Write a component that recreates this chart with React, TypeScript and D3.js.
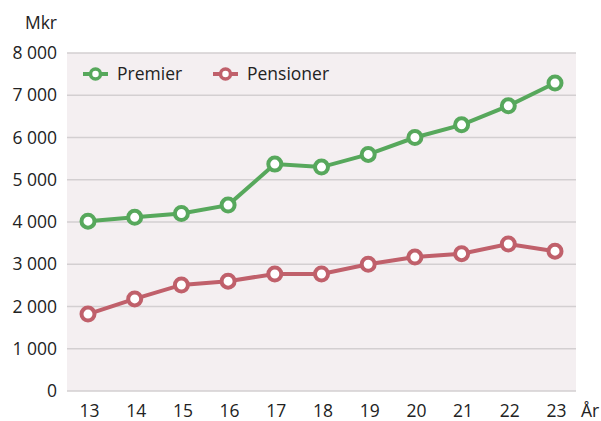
import React from "react";
import * as d3 from "d3";

const years = ["13", "14", "15", "16", "17", "18", "19", "20", "21", "22", "23"];
const premier = [4020, 4110, 4200, 4400, 5370, 5300, 5600, 6000, 6300, 6750, 7290];
const pensioner = [1820, 2180, 2510, 2600, 2770, 2770, 3000, 3170, 3250, 3480, 3310];
const yTicks = [0, 1000, 2000, 3000, 4000, 5000, 6000, 7000, 8000];

const W = 601, H = 421;
const left = 67, right = 576, top = 53, bottom = 391;
const green = "#57a85c", red = "#c0606b";
const font = "'Open Sans', sans-serif";

const fmt = (v: number) => d3.format(",")(v).replace(",", " ");

export default function App() {
  const x = d3.scalePoint().domain(years).range([88, 555]);
  const y = d3.scaleLinear().domain([0, 8000]).range([bottom, top]);
  const cx = (d: string) => x(d) as number;

  const line = d3.line<number>().x((_, i) => cx(years[i])).y(d => y(d));

  const series = [
    { name: "Premier", values: premier, color: green },
    { name: "Pensioner", values: pensioner, color: red },
  ];

  return (
    <svg width={W} height={H} style={{ position: "absolute", left: 0, top: 0 }} fontFamily={font}>
      <rect x={left} y={top} width={right - left} height={bottom - top} fill="#f4eff1" />
      {yTicks.map(t => (
        <g key={t}>
          <line x1={left} x2={right} y1={y(t)} y2={y(t)} stroke="#d3cfd1" strokeWidth={1.5} />
          <text x={57} y={y(t)} dy="0.35em" textAnchor="end" fontSize={17.5} fill="#222">{fmt(t)}</text>
        </g>
      ))}
      <text x={57} y={23} dy="0.35em" textAnchor="end" fontSize={17.5} fill="#222">Mkr</text>
      {years.map(d => (
        <text key={d} x={cx(d) + 1.5} y={411} dy="0.35em" textAnchor="middle" fontSize={17.5} fill="#222">{d}</text>
      ))}
      <text x={581} y={411} dy="0.35em" textAnchor="start" fontSize={17.5} fill="#222">År</text>

      {series.map(s => (
        <g key={s.name}>
          <path d={line(s.values) || ""} fill="none" stroke={s.color} strokeWidth={4} />
          {s.values.map((v, i) => (
            <circle key={i} cx={cx(years[i])} cy={y(v)} r={6.5} fill="#fff" stroke={s.color} strokeWidth={4} />
          ))}
        </g>
      ))}

      {series.map((s, i) => {
        const lx = i === 0 ? 83 : 213;
        return (
          <g key={s.name}>
            <line x1={lx} x2={lx + 25} y1={74} y2={74} stroke={s.color} strokeWidth={4} />
            <circle cx={lx + 12.5} cy={74} r={5} fill="#fff" stroke={s.color} strokeWidth={3.5} />
            <text x={lx + 34} y={74} dy="0.35em" fontSize={17.5} fill="#222">{s.name}</text>
          </g>
        );
      })}
    </svg>
  );
}
